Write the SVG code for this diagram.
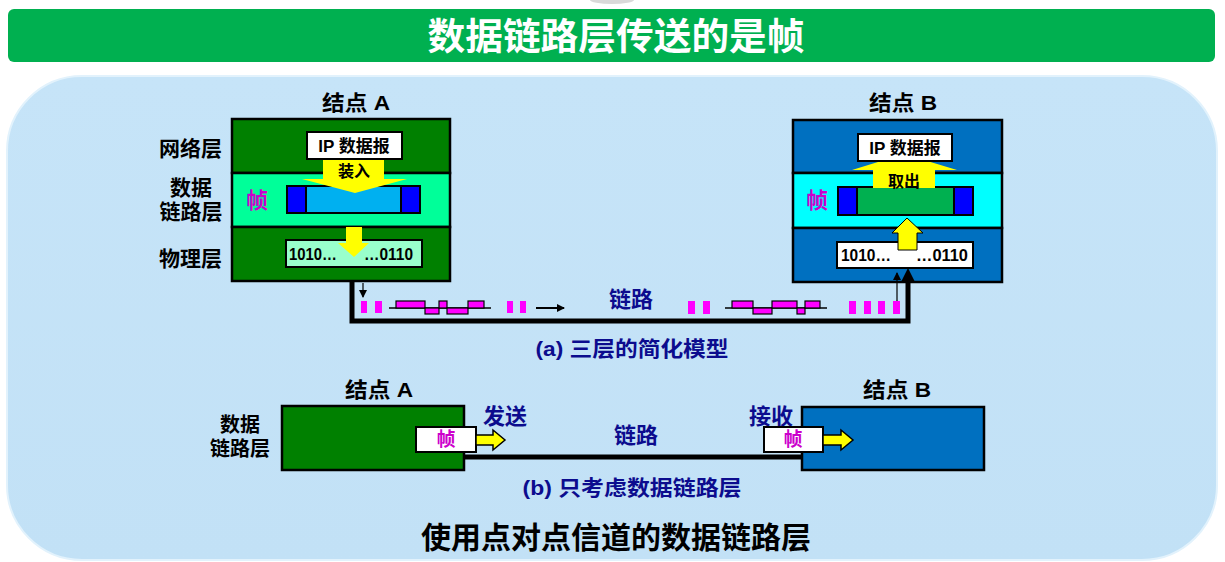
<svg xmlns="http://www.w3.org/2000/svg" width="1225" height="562" viewBox="0 0 1225 562">
<defs>
<style>
.t{font-family:"Liberation Sans","Noto Sans CJK SC",sans-serif;font-weight:bold}
.blk{fill:#000}
.nav{fill:#0c0c8e}
.mag{fill:#cc00cc}
.box{stroke:#000;stroke-width:2.5}
.thin{stroke:#000;stroke-width:1.2}
.bit{fill:#ff00ff}
.pulse{fill:#ff00ff;stroke:#000;stroke-width:1.2}
.dash{stroke:#000;stroke-width:1.5;stroke-dasharray:6 4}
</style>
<marker id="ah" markerWidth="8" markerHeight="8" refX="7" refY="4" orient="auto" markerUnits="userSpaceOnUse">
<path d="M0,0 L8,4 L0,8 Z" fill="#000"/>
</marker>
<linearGradient id="panel" x1="0" y1="0" x2="0" y2="1">
<stop offset="0" stop-color="#c6e4f8"/>
<stop offset="1" stop-color="#c2e1f6"/>
</linearGradient>
</defs>

<ellipse cx="612" cy="0" rx="22" ry="4" fill="#d9d9d9"/>
<rect x="8" y="9" width="1207" height="53" rx="6" fill="#00b050"/>
<text class="t" x="616" y="50" font-size="37" fill="#fff" text-anchor="middle" textLength="377" lengthAdjust="spacingAndGlyphs">数据链路层传送的是帧</text>

<rect x="7" y="76" width="1210" height="484" rx="75" fill="url(#panel)" stroke="#e2f2fc" stroke-width="2"/>

<!-- (a) Node A -->
<g id="nodeA-a">
<text class="t blk" x="356" y="110" font-size="21" text-anchor="middle" textLength="68" lengthAdjust="spacingAndGlyphs">结点 A</text>
<rect class="box" x="232" y="119" width="218" height="54" fill="#008000"/>
<rect class="box" x="232" y="173" width="218" height="54" fill="#00ff99"/>
<rect class="box" x="232" y="227" width="218" height="54" fill="#008000"/>
<text class="t mag" x="257" y="208" font-size="22" text-anchor="middle">帧</text>
<rect x="287" y="186" width="133" height="27" fill="#00b0f0" stroke="#000" stroke-width="2"/>
<rect x="287" y="186" width="19" height="27" fill="#0000ff" stroke="#000" stroke-width="2"/>
<rect x="401" y="186" width="19" height="27" fill="#0000ff" stroke="#000" stroke-width="2"/>
<line class="dash" x1="306" y1="186" x2="306" y2="213"/>
<line class="dash" x1="401" y1="186" x2="401" y2="213"/>
<path d="M323,159 L384,159 L384,179 L407,179 L355,193 L302,179 L323,179 Z" fill="#ffff00"/>
<text class="t blk" x="354" y="177" font-size="16" text-anchor="middle">装入</text>
<rect x="307" y="132" width="95" height="27" fill="#fff" stroke="#000" stroke-width="2"/>
<text class="t blk" x="354" y="152" font-size="17" text-anchor="middle">IP 数据报</text>
<rect x="286" y="240" width="136" height="27" fill="#99ffcc" stroke="#000" stroke-width="2"/>
<text class="t blk" x="289" y="260" font-size="17" textLength="48" lengthAdjust="spacingAndGlyphs">1010…</text>
<text class="t blk" x="364" y="260" font-size="17" textLength="49" lengthAdjust="spacingAndGlyphs">…0110</text>
<path d="M346,227 L362,227 L362,243 L369,243 L354,257 L338,243 L346,243 Z" fill="#ffff00"/>
</g>

<g id="labels-a">
<text class="t blk" x="222" y="156" font-size="21" text-anchor="end">网络层</text>
<text class="t blk" x="191" y="195" font-size="21" text-anchor="middle">数据</text>
<text class="t blk" x="191" y="219" font-size="21" text-anchor="middle">链路层</text>
<text class="t blk" x="222" y="266" font-size="21" text-anchor="end">物理层</text>
</g>

<!-- (a) Node B -->
<g id="nodeB-a">
<text class="t blk" x="903" y="110" font-size="21" text-anchor="middle" textLength="68" lengthAdjust="spacingAndGlyphs">结点 B</text>
<rect class="box" x="793" y="120" width="209" height="53" fill="#0070c0"/>
<rect class="box" x="793" y="173" width="209" height="55" fill="#00ffff"/>
<rect class="box" x="793" y="228" width="209" height="54" fill="#0070c0"/>
<text class="t mag" x="817" y="208" font-size="22" text-anchor="middle">帧</text>
<rect x="838" y="187" width="135" height="28" fill="#00b050" stroke="#000" stroke-width="2"/>
<rect x="838" y="187" width="19" height="28" fill="#0000ff" stroke="#000" stroke-width="2"/>
<rect x="954" y="187" width="19" height="28" fill="#0000ff" stroke="#000" stroke-width="2"/>
<line class="dash" x1="857" y1="187" x2="857" y2="215"/>
<line class="dash" x1="954" y1="187" x2="954" y2="215"/>
<path d="M873,188 L935,188 L935,170 L957,170 L904,154 L852,170 L873,170 Z" fill="#ffff00"/>
<text class="t blk" x="904" y="187" font-size="16" text-anchor="middle">取出</text>
<rect x="858" y="134" width="94" height="27" fill="#fff" stroke="#000" stroke-width="2"/>
<text class="t blk" x="905" y="154" font-size="17" text-anchor="middle">IP 数据报</text>
<rect x="837" y="242" width="136" height="26" fill="#fff" stroke="#000" stroke-width="2"/>
<text class="t blk" x="841" y="261" font-size="17" textLength="50" lengthAdjust="spacingAndGlyphs">1010…</text>
<text class="t blk" x="916" y="261" font-size="17" textLength="52" lengthAdjust="spacingAndGlyphs">…0110</text>
<path d="M898,250 L917,250 L917,233 L923,233 L907,218 L892,233 L898,233 Z" fill="#ffff00" stroke="#000" stroke-width="1"/>
</g>

<!-- (a) link -->
<g id="connectors-a">
<path d="M352,281 L352,321 L908,321 L908,280" fill="none" stroke="#000" stroke-width="5"/>
<path d="M901,282 L908,268 L915,282 Z" fill="#000"/>
<line class="thin" x1="363" y1="283" x2="363" y2="297" marker-end="url(#ah)"/>
<line class="thin" x1="897" y1="301" x2="897" y2="273" marker-end="url(#ah)"/>
<line x1="536" y1="308" x2="564" y2="308" stroke="#000" stroke-width="2" marker-end="url(#ah)"/>
<rect class="bit" x="361" y="301" width="6" height="12"/>
<rect class="bit" x="375" y="301" width="7" height="12"/>
<line x1="389" y1="308" x2="491" y2="308" stroke="#000" stroke-width="1.5"/>
<rect class="pulse" x="396" y="301" width="29" height="7"/>
<rect class="pulse" x="425" y="308" width="14" height="6"/>
<rect class="pulse" x="439" y="301" width="8" height="7"/>
<rect class="pulse" x="447" y="308" width="21" height="6"/>
<rect class="pulse" x="468" y="301" width="16" height="7"/>
<rect class="bit" x="507" y="301" width="6" height="12"/>
<rect class="bit" x="520" y="301" width="6" height="12"/>
<rect class="bit" x="688" y="301" width="7" height="13"/>
<rect class="bit" x="703" y="301" width="7" height="13"/>
<line x1="725" y1="308" x2="827" y2="308" stroke="#000" stroke-width="1.5"/>
<rect class="pulse" x="732" y="301" width="21" height="7"/>
<rect class="pulse" x="753" y="308" width="19" height="6"/>
<rect class="pulse" x="772" y="301" width="25" height="7"/>
<rect class="pulse" x="797" y="308" width="8" height="6"/>
<rect class="pulse" x="805" y="301" width="15" height="7"/>
<rect class="bit" x="849" y="301" width="7" height="13"/>
<rect class="bit" x="864" y="301" width="7" height="13"/>
<rect class="bit" x="878" y="301" width="7" height="13"/>
<rect class="bit" x="893" y="301" width="7" height="13"/>
<text class="t nav" x="631" y="307" font-size="22" text-anchor="middle">链路</text>
<text class="t nav" x="632" y="356" font-size="21" text-anchor="middle" textLength="193" lengthAdjust="spacingAndGlyphs">(a) 三层的简化模型</text>
</g>

<!-- (b) -->
<g id="connectors-b">
<line x1="462" y1="457" x2="804" y2="457" stroke="#000" stroke-width="5"/>
<text class="t nav" x="505" y="424" font-size="22" text-anchor="middle">发送</text>
<text class="t nav" x="636" y="443" font-size="22" text-anchor="middle">链路</text>
<text class="t nav" x="771" y="424" font-size="22" text-anchor="middle">接收</text>
<text class="t nav" x="632" y="495" font-size="21" text-anchor="middle" textLength="219" lengthAdjust="spacingAndGlyphs">(b) 只考虑数据链路层</text>
</g>

<g id="labels-b">
<text class="t blk" x="240" y="432" font-size="20" text-anchor="middle">数据</text>
<text class="t blk" x="240" y="456" font-size="20" text-anchor="middle">链路层</text>
</g>

<g id="nodeA-b">
<text class="t blk" x="379" y="397" font-size="21" text-anchor="middle" textLength="68" lengthAdjust="spacingAndGlyphs">结点 A</text>
<rect class="box" x="282" y="406" width="182" height="64" fill="#008000"/>
<rect x="416" y="427" width="60" height="25" fill="#fff" stroke="#000" stroke-width="2"/>
<text class="t mag" x="446" y="446" font-size="19" text-anchor="middle">帧</text>
<path d="M476,435 L493,435 L493,430 L505,440 L493,450 L493,445 L476,445 Z" fill="#ffff00" stroke="#000" stroke-width="1.5"/>
</g>

<g id="nodeB-b">
<text class="t blk" x="897" y="397" font-size="21" text-anchor="middle" textLength="68" lengthAdjust="spacingAndGlyphs">结点 B</text>
<rect class="box" x="802" y="407" width="182" height="63" fill="#0070c0"/>
<rect x="764" y="427" width="59" height="25" fill="#fff" stroke="#000" stroke-width="2"/>
<text class="t mag" x="793" y="446" font-size="19" text-anchor="middle">帧</text>
<path d="M823,435 L841,435 L841,430 L853,440 L841,450 L841,445 L823,445 Z" fill="#ffff00" stroke="#000" stroke-width="1.5"/>
</g>

<text class="t blk" x="616" y="548" font-size="30" text-anchor="middle">使用点对点信道的数据链路层</text>
</svg>
